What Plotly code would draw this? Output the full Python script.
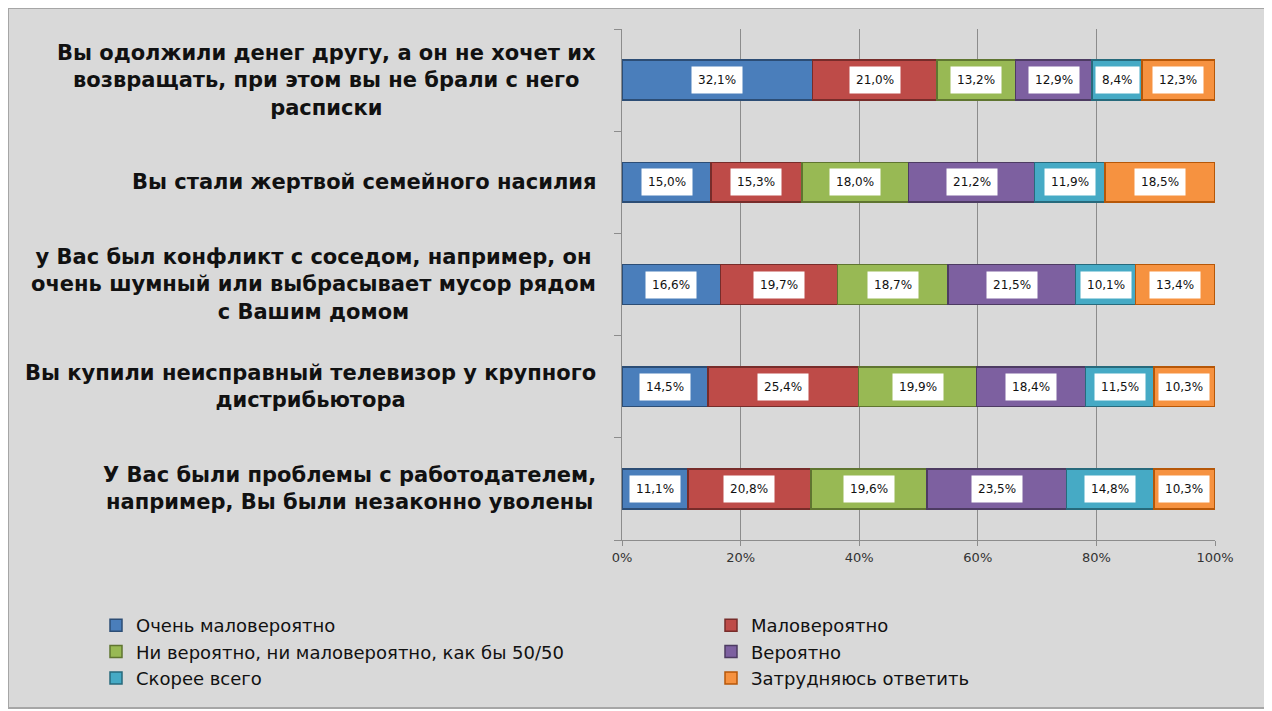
import plotly.graph_objects as go

categories = [
    "Вы одолжили денег другу, а он не хочет их<br>возвращать, при этом вы не брали с него<br>расписки",
    "Вы стали жертвой семейного насилия",
    "у Вас был конфликт с соседом, например, он<br>очень шумный или выбрасывает мусор рядом<br>с Вашим домом",
    "Вы купили неисправный телевизор у крупного<br>дистрибьютора",
    "У Вас были проблемы с работодателем,<br>например, Вы были незаконно уволены",
]
series_names = [
    "Очень маловероятно",
    "Маловероятно",
    "Ни вероятно, ни маловероятно, как бы 50/50",
    "Вероятно",
    "Скорее всего",
    "Затрудняюсь ответить",
]
very_unlikely = [32.1, 15.0, 16.6, 14.5, 11.1]
unlikely = [21.0, 15.3, 19.7, 25.4, 20.8]
neutral = [13.2, 18.0, 18.7, 19.9, 19.6]
likely = [12.9, 21.2, 21.5, 18.4, 23.5]
most_likely = [8.4, 11.9, 10.1, 11.5, 14.8]
hard_to_say = [12.3, 18.5, 13.4, 10.3, 10.3]
series_values = [very_unlikely, unlikely, neutral, likely, most_likely, hard_to_say]
colors = ["#4A7EBB", "#BE4B48", "#98B954", "#7D60A0", "#46AAC5", "#F69240"]
edge_colors = ["#2C4D75", "#772C2A", "#5F7530", "#4D3B62", "#276A7C", "#B65708"]
tick_vals = [0, 20, 40, 60, 80, 100]
tick_labels = ["0%", "20%", "40%", "60%", "80%", "100%"]

OFF = 8  # page body margin
W, H = 1272 - OFF, 711 - OFF
L, R, T, B = 622 - OFF, 1215 - OFF, 29 - OFF, 540 - OFF


def px_x(p):
    return (p - OFF - L) / (R - L)


def px_y(p):
    return (B - (p - OFF)) / (B - T)


FONT = "DejaVu Sans"
fig = go.Figure()
for i, (name, vals) in enumerate(zip(series_names, series_values)):
    fig.add_trace(go.Bar(
        y=categories, x=vals, name=name, orientation="h",
        marker=dict(color=colors[i], line=dict(color=edge_colors[i], width=1.5)),
        width=0.39,
        legend="legend" if i % 2 == 0 else "legend2",
        legendgroup=f"g{i}",
        hoverinfo="skip",
    ))

annotations = []
for j, cat in enumerate(categories):
    total = sum(v[j] for v in series_values)
    start = 0.0
    for vals in series_values:
        share = vals[j] / total * 100
        annotations.append(dict(
            x=start + share / 2, y=cat, xref="x", yref="y",
            text=f"{vals[j]:.1f}%".replace(".", ","),
            showarrow=False, bgcolor="white", borderpad=6,
            font=dict(family=FONT, size=12, color="#111111"),
        ))
        start += share
    annotations.append(dict(
        x=0, y=cat, xref="paper", yref="y", xanchor="right", yanchor="middle",
        xshift=-24, text=cat, align="center", showarrow=False,
        font=dict(family=FONT, size=21, color="#111111", weight="bold"),
    ))

legend_common = dict(xanchor="left", yanchor="top", bgcolor="rgba(0,0,0,0)",
                     font=dict(family=FONT, size=18, color="#111111"),
                     tracegroupgap=0, itemwidth=30)

fig.update_layout(
    width=W, height=H,
    barmode="stack", barnorm="percent",
    paper_bgcolor="white", plot_bgcolor="#D9D9D9",
    margin=dict(l=L, r=W - R, t=T, b=H - B, autoexpand=False),
    annotations=annotations,
    shapes=[dict(type="rect", xref="paper", yref="paper",
                 x0=px_x(8), x1=px_x(1267), y0=px_y(708), y1=px_y(8),
                 fillcolor="#D9D9D9", line=dict(color="#A6A6A6", width=2),
                 layer="below")],
    xaxis=dict(range=[0, 100], tickvals=tick_vals, ticktext=tick_labels,
               showgrid=True, gridcolor="#8C8C8C", gridwidth=1,
               showline=True, linecolor="#8C8C8C", ticks="outside",
               ticklen=5, tickcolor="#8C8C8C", zeroline=False,
               tickfont=dict(family=FONT, size=13, color="#333333")),
    yaxis=dict(categoryorder="array", categoryarray=categories[::-1],
               showticklabels=False, showline=True, linecolor="#8C8C8C",
               ticks="outside", tickson="boundaries", ticklen=7,
               tickcolor="#8C8C8C", showgrid=False),
    legend=dict(x=px_x(96), y=px_y(607), **legend_common),
    legend2=dict(x=px_x(711), y=px_y(607), **legend_common),
)

fig.write_html("out.html")
